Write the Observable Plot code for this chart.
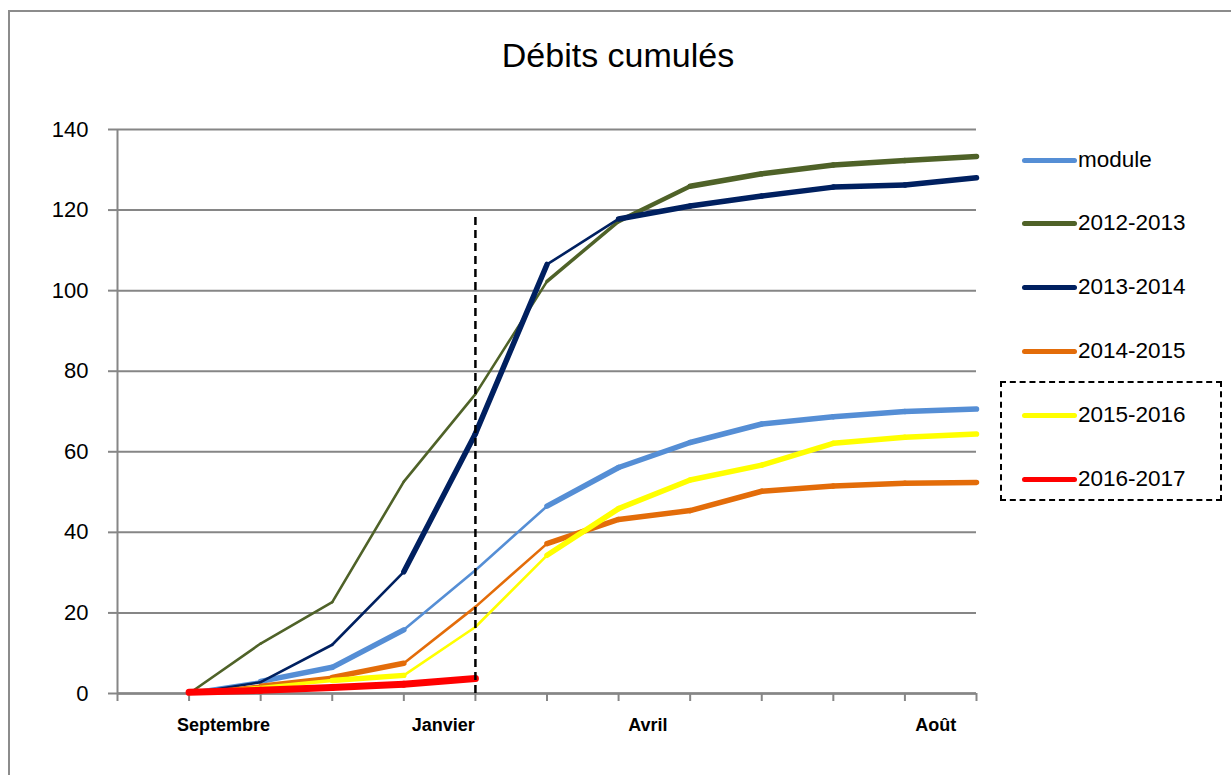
<!DOCTYPE html>
<html>
<head>
<meta charset="utf-8">
<script src="https://cdn.jsdelivr.net/npm/d3@7"></script>
<script src="https://cdn.jsdelivr.net/npm/@observablehq/plot@0.6"></script>
<style>
  html, body { margin: 0; padding: 0; background: #fff; overflow: hidden; }
  body { width: 1231px; height: 775px; position: relative; font-family: "Liberation Sans", Arial, sans-serif; }
  #frame { position: absolute; left: 8px; top: 10px; width: 1400px; height: 900px; border-left: 2px solid #8c8c8c; border-top: 2px solid #8c8c8c; }
  #title { position: absolute; left: 0; top: 36px; width: 1236px; text-align: center; font-size: 34px; color: #000; }
  #chart { position: absolute; left: 0; top: 100px; }
  .leg { position: absolute; left: 1022px; height: 30px; display: flex; align-items: center; font-size: 22.5px; color: #000; white-space: nowrap; }
  .leg .sw { width: 55px; height: 5px; border-radius: 3px; margin-right: 1px; }
  #dashbox { position: absolute; left: 1000px; top: 381px; width: 222px; height: 120px; border: 2px dashed #000; box-sizing: border-box; }
</style>
</head>
<body>
<div id="frame"></div>
<div id="title">Débits cumulés</div>
<div id="chart"></div>
<div id="legend"></div>
<div id="dashbox"></div>
<script>
// ---- data ----
const months = [0, 1, 2, 3, 4, 5, 6, 7, 8, 9, 10, 11]; // 1 Sep ... 1 Aug (category index)
const seriesNames = ["module", "2012-2013", "2013-2014", "2014-2015", "2015-2016", "2016-2017"];
const module_   = [0.3, 3.0, 6.5, 15.8, 30.6, 46.5, 56.1, 62.3, 66.9, 68.7, 70.0, 70.6];
const s2012     = [0.0, 12.4, 22.7, 52.6, 74.3, 102.3, 117.2, 125.9, 129.0, 131.2, 132.3, 133.3];
const s2013     = [0.0, 2.8, 12.1, 30.2, 64.5, 106.5, 117.8, 121.0, 123.5, 125.7, 126.2, 128.0];
const s2014     = [0.0, 2.0, 4.0, 7.5, 21.5, 37.2, 43.2, 45.4, 50.2, 51.5, 52.2, 52.4];
const s2015     = [0.0, 1.5, 3.2, 4.5, 16.5, 34.3, 45.9, 53.0, 56.7, 62.1, 63.6, 64.4];
const s2016     = [0.3, 0.8, 1.5, 2.3, 3.7];
const seriesValues = [module_, s2012, s2013, s2014, s2015, s2016];
const xTickLabels = ["Septembre", "Janvier", "Avril", "Août"];
const xTickLabelAt = [0.48, 3.55, 6.41, 10.43];
const yTicks = [0, 20, 40, 60, 80, 100, 120, 140];
const markerMonth = 4;    // Janvier
const markerTop = 119;

// ---- styles ----
const colors = ["#558ED5", "#4F6228", "#002060", "#E36C09", "#FFFF00", "#FF0000"];
const T = 2.6, K = 5.5, R = 7;
const segWidths = {
  "module":    [T, K, K, T, T, K, K, K, K, K, K],
  "2012-2013": [T, T, T, T, T, 3.5, 4.5, K, K, K, K],
  "2013-2014": [T, T, T, K, K, T, K, K, K, K, K],
  "2014-2015": [T, 4, K, T, T, K, K, K, K, K, K],
  "2015-2016": [3.5, 3.5, K, T, T, K, K, K, K, K, K],
  "2016-2017": [R, R, R, R]
};

// segments table
const segs = [];
seriesNames.forEach((name, si) => {
  const vals = seriesValues[si];
  for (let i = 0; i < vals.length - 1; i++) {
    segs.push({series: name, color: colors[si], x1: months[i], y1: vals[i], x2: months[i + 1], y2: vals[i + 1], w: segWidths[name][i]});
  }
});

const chart = Plot.plot({
  width: 1231,
  height: 675,
  marginLeft: 117,
  marginRight: 255,
  marginTop: 29,
  marginBottom: 82,
  style: {fontFamily: "Liberation Sans, Arial, sans-serif", background: "transparent", overflow: "visible"},
  x: {domain: [-1, 11]},
  y: {domain: [0, 140]},
  marks: [
    Plot.gridY(yTicks, {stroke: "#868686", strokeOpacity: 1, strokeWidth: 2}),
    Plot.axisY(yTicks, {tickSize: 9, tickPadding: 20, stroke: "#868686", strokeWidth: 2, fontSize: 22, fill: "#000", label: null, tickFormat: d => String(d)}),
    Plot.ruleX([-1], {stroke: "#868686", strokeWidth: 2}),
    Plot.ruleY([0], {stroke: "#868686", strokeWidth: 2.5}),
    Plot.axisX(d3.range(-1, 12), {tickSize: 8, stroke: "#868686", strokeWidth: 2, tickFormat: () => "", label: null}),
    Plot.text(xTickLabels, {x: (d, i) => xTickLabelAt[i], y: () => 0, dy: 32, text: d => d, fontWeight: "bold", fontSize: 18, fill: "#000", textAnchor: "middle"}),
    Plot.link(segs, {x1: "x1", y1: "y1", x2: "x2", y2: "y2", stroke: d => d.color, strokeWidth: d => d.w, strokeLinecap: "round", strokeLinejoin: "round"}),
    Plot.ruleX([markerMonth], {y1: 0, y2: markerTop, stroke: "#000", strokeWidth: 2.5, strokeDasharray: "8,5"})
  ]
});
document.getElementById("chart").appendChild(chart);

// legend
const legendTops = [160, 223, 287, 351, 415, 479];
const legend = document.getElementById("legend");
seriesNames.forEach((name, i) => {
  const row = document.createElement("div");
  row.className = "leg";
  row.style.top = (legendTops[i] - 15) + "px";
  row.innerHTML = `<span class="sw" style="background:${colors[i]}"></span><span>${name}</span>`;
  legend.appendChild(row);
});
</script>
</body>
</html>
